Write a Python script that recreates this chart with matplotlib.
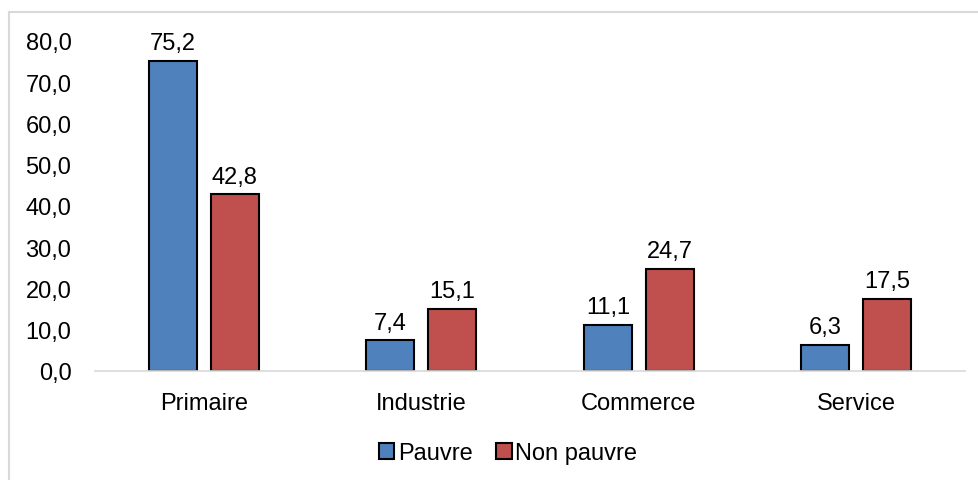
import numpy as np
import matplotlib.pyplot as plt
from matplotlib.lines import Line2D

plt.rcParams['font.family'] = ['Liberation Sans', 'DejaVu Sans']

categories = ['Primaire', 'Industrie', 'Commerce', 'Service']
pauvre = [75.2, 7.4, 11.1, 6.3]
non_pauvre = [42.8, 15.1, 24.7, 17.5]
yticks = [0, 10, 20, 30, 40, 50, 60, 70, 80]

fig = plt.figure(figsize=(9.79, 4.81), dpi=100)
ax = fig.add_axes([95/979, 109/481, 870/979, 330/481])

x = np.arange(len(categories))
w = 0.22
b1 = ax.bar(x - 0.142, pauvre, w, color='#4F81BD', edgecolor='black', linewidth=1.5, label='Pauvre')
b2 = ax.bar(x + 0.142, non_pauvre, w, color='#C0504D', edgecolor='black', linewidth=1.5, label='Non pauvre')

for bars, vals in ((b1, pauvre), (b2, non_pauvre)):
    for r, v in zip(bars, vals):
        ax.annotate(f'{v:.1f}'.replace('.', ','), (r.get_x() + r.get_width()/2, v),
                    xytext=(0, 5), textcoords='offset points', ha='center', va='bottom', fontsize=17)

ax.set_xlim(-0.5, 3.5)
ax.set_ylim(0, 80)
ax.set_xticks(x)
ax.set_xticklabels(categories, fontsize=17)
ax.set_yticks(yticks)
ax.set_yticklabels([f'{t:.1f}'.replace('.', ',') for t in yticks], fontsize=17)
ax.tick_params(axis='x', length=0, pad=15)
ax.tick_params(axis='y', length=0, pad=17)
for s in ['top', 'right', 'left']:
    ax.spines[s].set_visible(False)
ax.spines['bottom'].set_color('#D9D9D9')
ax.spines['bottom'].set_linewidth(1.2)

ax.legend(loc='center', bbox_to_anchor=(0.5 - 22/870, -82/330), ncol=2, frameon=False,
          fontsize=17, handlelength=0.65, handleheight=0.65, handletextpad=0.15, columnspacing=1.0)

# outer chart border
fig.add_artist(Line2D([9/979, 1], [1 - 13/481, 1 - 13/481], color='#D9D9D9', lw=1.5))
fig.add_artist(Line2D([9/979, 9/979], [0, 1 - 13/481], color='#D9D9D9', lw=1.5))

fig.savefig('out.png', dpi=100)
